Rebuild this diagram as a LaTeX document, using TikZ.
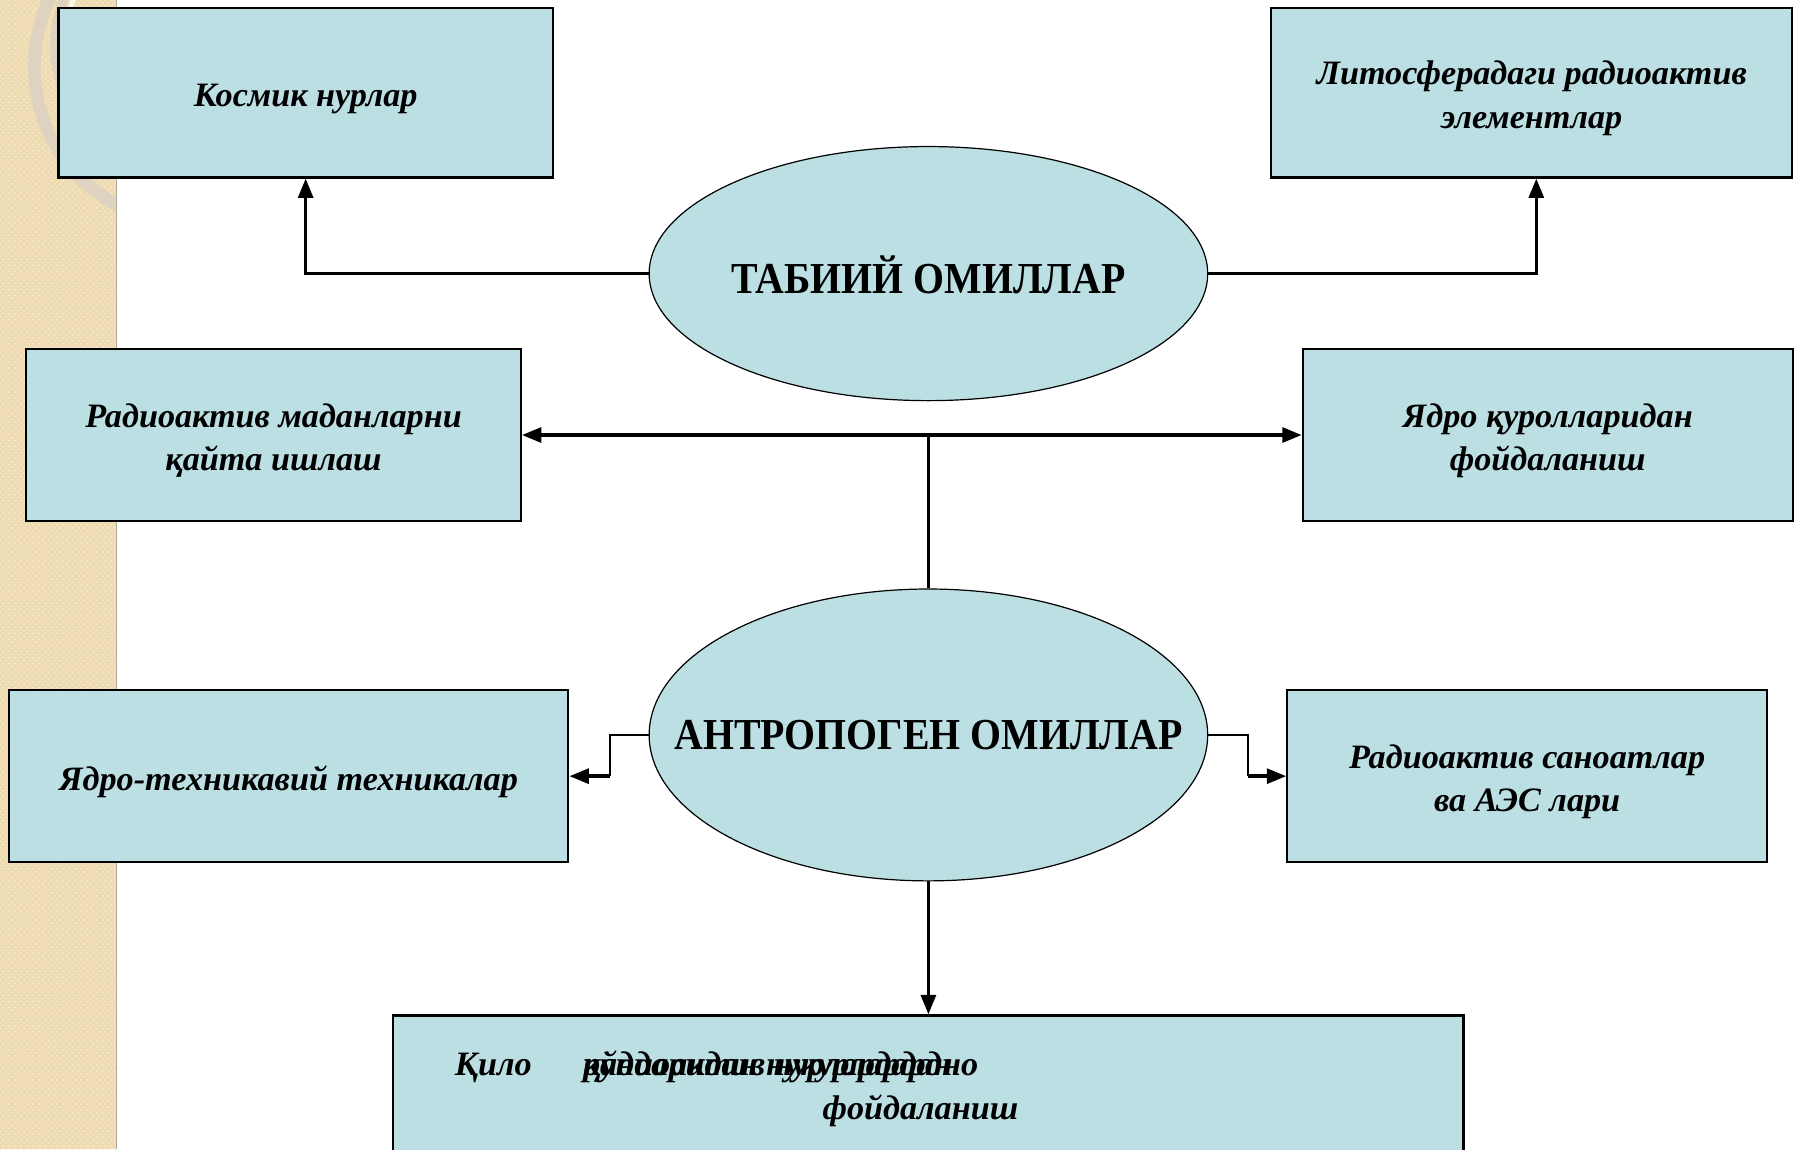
\documentclass[tikz,border=0pt]{standalone}
\usepackage{fontspec}
\setmainfont{Liberation Serif}
\newfontfamily\titlefont{Liberation Serif}[FakeStretch=0.9]
\usetikzlibrary{positioning,arrows.meta,shapes.geometric,patterns}
\definecolor{boxfill}{HTML}{BBDFE3}
\definecolor{stripfill}{HTML}{EEDBB2}
\definecolor{stripdot}{HTML}{F7EBD2}
\definecolor{ringtone}{HTML}{DDD3C0}
\definecolor{ringlight}{HTML}{FBF6EA}
\newcommand\topstrut{\rule{0pt}{17.5pt}}

\tikzset{
  factbox/.style={draw=black, line width=1.1pt, fill=boxfill, inner sep=0pt, align=center,
    font=\fontsize{17}{21.6}\selectfont\bfseries\itshape},
  boxtext/.style={inner sep=0pt, font=\fontsize{17}{21.6}\selectfont\bfseries\itshape},
  factor/.style={ellipse, draw=black, line width=0.6pt, fill=boxfill, inner sep=0pt},
  factortext/.style={inner sep=0pt, font=\titlefont\fontsize{22}{26}\selectfont\bfseries},
  link/.style={line width=1.7pt, -{Triangle[length=0.34cm,width=0.26cm]}},
  plainlink/.style={line width=1.7pt},
  thinlink/.style={line width=0.9pt}
}

\begin{document}
\begin{tikzpicture}[x=0.02cm,y=-0.02cm]
\useasboundingbox (0,0) rectangle (1568,1004);
\fill[white] (0,0) rectangle (1568,1004);
\fill[stripfill] (0,0) rectangle (102,1004);
\fill[pattern=crosshatch dots, pattern color=stripdot] (0,0) rectangle (102,1004);
\draw[ringtone!80!black, line width=0.6pt] (102,0) -- (102,1004);
\begin{scope}
\clip (0,0) rectangle (101,1004);
\draw[ringtone, line width=0.22cm] (168,58) circle[radius=138];
\draw[ringtone, line width=0.16cm] (160,40) circle[radius=112];
\draw[ringlight, line width=0.08cm] (160,40) circle[radius=104];
\end{scope}

\node[factor, minimum width=9.76cm, minimum height=4.44cm] (tabiiy) at (811,239) {};
\node[factortext] (tabiiylbl) at (811,240) {ТАБИИЙ ОМИЛЛАР};
\node[factor, minimum width=9.76cm, minimum height=5.1cm] (antro) at (811,642) {};
\node[factortext] (antrolbl) at (811,642) {АНТРОПОГЕН ОМИЛЛАР};

\node[factbox, minimum width=8.64cm, minimum height=2.96cm] (kosmik) at (267,81) {\topstrut Космик нурлар};
\node[factbox, minimum width=9.1cm, minimum height=2.96cm] (lito) at (1338,81) {\topstrut Литосферадаги радиоактив\\элементлар};
\node[factbox, minimum width=8.64cm, minimum height=3.0cm] (madan) at (239,380) {\topstrut Радиоактив маданларни\\қайта ишлаш};
\node[factbox, minimum width=8.56cm, minimum height=3.0cm] (yadro) at (1352,380) {\topstrut Ядро қуролларидан\\фойдаланиш};
\node[factbox, minimum width=9.78cm, minimum height=3.0cm] (texn) at (252,678) {\topstrut Ядро-техникавий техникалар};
\node[factbox, minimum width=8.38cm, minimum height=3.0cm] (sanoat) at (1334,678) {\topstrut Радиоактив саноатлар\\ва АЭС  лари};
\node[factbox, minimum width=18.7cm, minimum height=3.0cm] (agri) at (811,962) {};
\node[boxtext, anchor=west] (agri1) at (397,932) {Қило\hspace{1.5em}\rlap{қўндаридан нукурлардан}радиоактив нурлардардно};
\node[boxtext] (agri2) at (804,970) {фойдаланиш};

\coordinate (hub) at (811,380);
\coordinate (lcorner) at (533,678);
\coordinate (rcorner) at (1090,678);

\draw[link] (tabiiy.west) -| (kosmik.south);
\draw[link] (tabiiy.east) -| ([xshift=0.08cm]lito.south);
\draw[link, {Triangle[length=0.34cm,width=0.26cm]}-{Triangle[length=0.34cm,width=0.26cm]}] (madan.east) -- (yadro.west);
\draw[plainlink] (antro.north) -- (hub);
\draw[thinlink] (antro.west) -| (lcorner);
\draw[link] (lcorner) -- (texn.east);
\draw[thinlink] (antro.east) -| (rcorner);
\draw[link] (rcorner) -- (sanoat.west);
\draw[link] (antro.south) -- (agri.north);
\end{tikzpicture}
\end{document}
